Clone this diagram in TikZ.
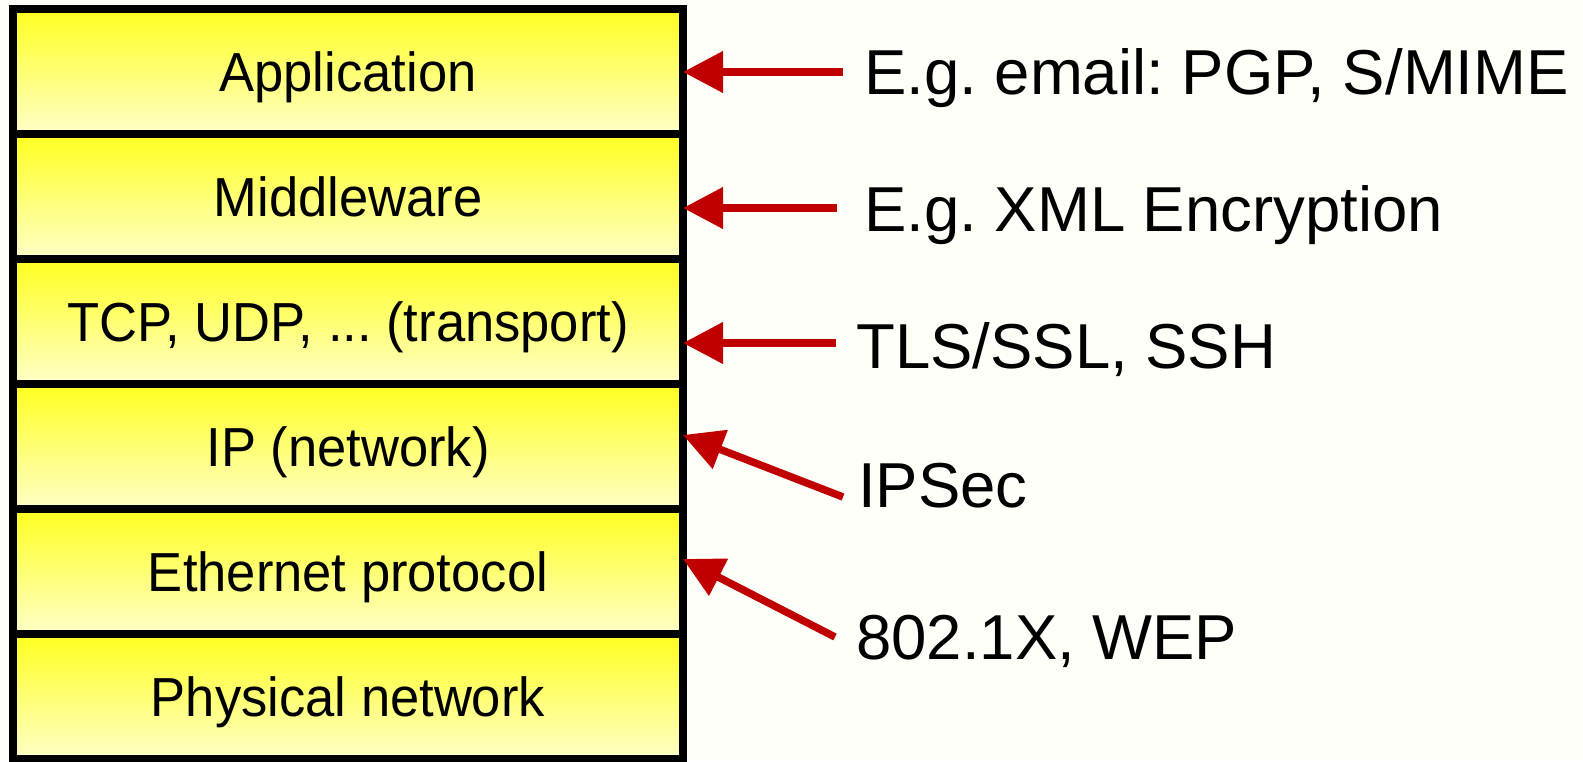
\documentclass[tikz,border=0pt]{standalone}
\usepackage{fontspec}
\setmainfont{Liberation Sans}
\newfontfamily\boxfont[FakeStretch=0.955]{Liberation Sans}
\usetikzlibrary{arrows.meta}
\frenchspacing
\definecolor{arrowred}{RGB}{192,0,0}
\definecolor{ytop}{RGB}{255,255,32}
\definecolor{ybot}{RGB}{255,255,200}
\definecolor{bgc}{RGB}{255,255,250}
\tikzset{
  layer/.style={draw=black, line width=8pt, top color=ytop, bottom color=ybot,
    minimum width=670pt, minimum height=125pt, inner sep=0pt, outer sep=0pt,
    text height=40pt, text depth=0pt, font=\boxfont\fontsize{55}{60}\selectfont},
  side/.style={anchor=base west, inner sep=0pt, font=\fontsize{63.5}{70}\selectfont},
  redarrow/.style={draw=arrowred, line width=7.5pt, -{Triangle[length=40pt,width=40pt]}}
}
\begin{document}
\frenchspacing
\begin{tikzpicture}[x=1pt,y=-1pt]
\fill[bgc] (0,0) rectangle (1583,761);
\useasboundingbox (0,0) rectangle (1583,761);
\node[layer] (app) at (348,71.5) {Application};
\node[layer] (mw)  at (348,196.5) {Middleware};
\node[layer] (tcp) at (348,321.5) {TCP, UDP, ... (transport)};
\node[layer] (ip)  at (348,446.5) {IP (network)};
\node[layer] (eth) at (348,571.5) {Ethernet protocol};
\node[layer] (phy) at (348,696.5) {Physical network};

\node[side] (l1) at (864,94) {E.g. email: PGP, S/MIME};
\node[side] (l2) at (864,231) {E.g. XML Encryption};
\node[side] (l3) at (856,368) {TLS/SSL, SSH};
\node[side] (l4) at (858,507) {IPSec};
\node[side] (l5) at (856,659) {802.1X, WEP};

\coordinate (t1) at (843,72);
\coordinate (t2) at (837,208);
\coordinate (t3) at (836,343);
\coordinate (t4) at (843,497);
\coordinate (t5) at (835,637);

\draw[redarrow] (t1) -- ([yshift=-0.5pt]app.east);
\draw[redarrow] (t2) -- ([yshift=-11.5pt]mw.east);
\draw[redarrow] (t3) -- ([yshift=-21.5pt]tcp.east);
\draw[redarrow] (t4) -- ([yshift=11.5pt]ip.east);
\draw[redarrow] (t5) -- ([yshift=12.5pt]eth.east);
\end{tikzpicture}
\end{document}
